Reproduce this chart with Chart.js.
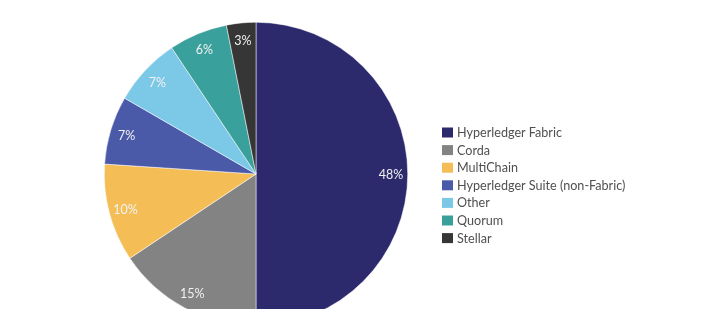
<!DOCTYPE html>
<html>
<head>
<meta charset="utf-8">
<script src="https://cdn.jsdelivr.net/npm/chart.js@4"></script>
<style>
html,body{margin:0;padding:0;background:#fff;width:720px;height:309px;overflow:hidden;}
#wrap{position:relative;width:720px;height:340px;}
</style>
</head>
<body>
<div id="wrap"><canvas id="pie" width="720" height="340"></canvas></div>
<script>
/* ================= DATA ================= */
const labels=["Hyperledger Fabric","Corda","MultiChain","Hyperledger Suite (non-Fabric)","Other","Quorum","Stellar"];
const shares=[48,15,10,7,7,6,3];
const colors=["#2c2a6d","#838383","#f4bd56","#4b5aa8","#7cc8e7","#3aa09c","#363636"];

/* ================= PLUGINS ================= */
// percent text inside each slice
const sliceText={
id:"sliceText",
afterDatasetsDraw(chart){
const ctx=chart.ctx;
const meta=chart.getDatasetMeta(0);
ctx.save();
ctx.font="12.5px Lato";
ctx.fillStyle="#f2f2f2";
ctx.textAlign="center";
ctx.textBaseline="middle";
meta.data.forEach((arc,i)=>{
const p=arc.getProps(["x","y","startAngle","endAngle","outerRadius"],true);
const a=(p.startAngle+p.endAngle)/2;
const r=p.outerRadius*0.89;
ctx.fillText(shares[i]+"%",p.x+Math.cos(a)*r,p.y+Math.sin(a)*r+1);
});
ctx.restore();
}
};

// legend list on the right
const sideLegend={
id:"sideLegend",
afterDraw(chart){
const ctx=chart.ctx;
ctx.save();
ctx.font="12.6px Lato";
ctx.textBaseline="middle";
labels.forEach((l,i)=>{
const y=127.5+i*17.6;
ctx.fillStyle=colors[i];
ctx.fillRect(442,y,11,10);
ctx.fillStyle="#505050";
ctx.fillText(l,457,y+5.5);
});
ctx.restore();
}
};

/* ================= CHART ================= */
new Chart(document.getElementById("pie"),{
type:"pie",
data:{
labels,
datasets:[{data:shares,backgroundColor:colors,borderColor:"#ffffff",borderWidth:0.5}]
},
options:{
responsive:false,
animation:false,
layout:{padding:{left:104,right:312,top:22,bottom:14}},
plugins:{legend:{display:false},tooltip:{enabled:false}}
},
plugins:[sliceText,sideLegend]
});
</script>
</body>
</html>
